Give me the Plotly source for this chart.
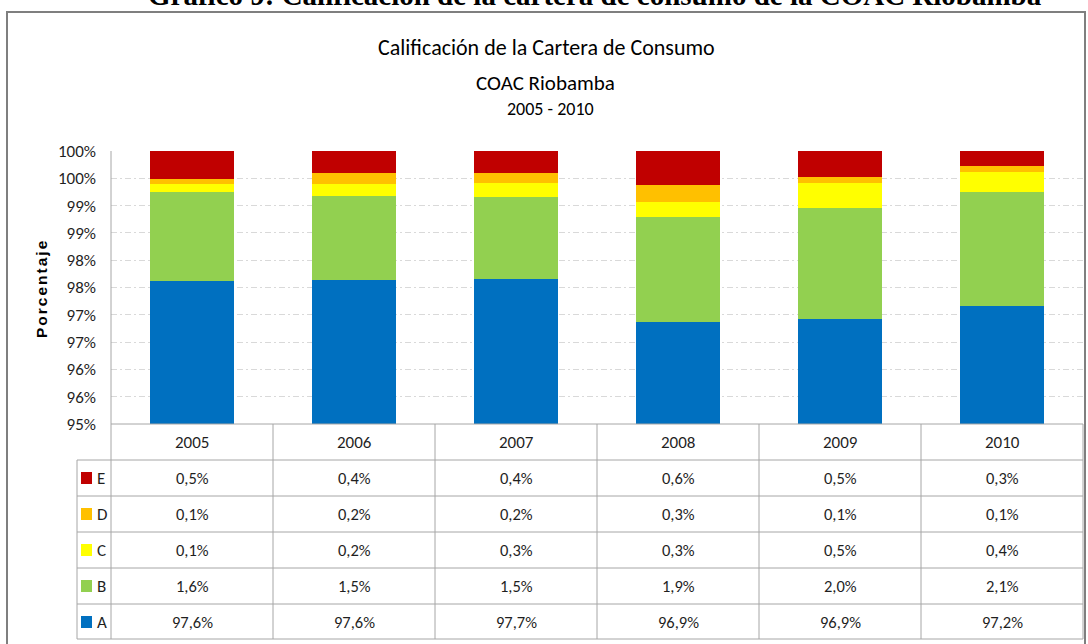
import plotly.graph_objects as go

# ---------------- data ----------------
years = ["2005", "2006", "2007", "2008", "2009", "2010"]
grade_A = [97.61, 97.63, 97.66, 96.86, 96.93, 97.17]
grade_B = [1.64, 1.54, 1.49, 1.94, 2.02, 2.08]
grade_C = [0.14, 0.22, 0.27, 0.27, 0.47, 0.37]
grade_D = [0.09, 0.21, 0.18, 0.30, 0.10, 0.10]
grade_E = [0.52, 0.40, 0.40, 0.63, 0.48, 0.28]
grade_names = ["A", "B", "C", "D", "E"]
grade_colors = ["#0070C0", "#92D050", "#FFFF00", "#FFC000", "#C00000"]
y_tickvals = [95, 95.5, 96, 96.5, 97, 97.5, 98, 98.5, 99, 99.5, 100]
y_ticktext = ["95%", "96%", "96%", "97%", "97%", "98%", "98%", "99%", "99%", "100%", "100%"]

series = [grade_A, grade_B, grade_C, grade_D, grade_E]

# ---------------- geometry (pixels) ----------------
W, H = 1088, 644
L, R, T, B = 111, 1083, 151, 424
ROW = 36
LEG_X = 77

def px2x(px):
    return (px - L) / (R - L)

def py2y(py):
    return (B - py) / (B - T)

FONT = "Carlito, Lato, Roboto, sans-serif"
TXT = "#1f1f1f"
GRID_LINE = "#a6a6a6"

fig = go.Figure()
for name, vals, col in zip(grade_names, series, grade_colors):
    fig.add_trace(go.Bar(x=years, y=vals, name=name, marker=dict(color=col, line=dict(width=0)),
                         width=0.52, hoverinfo="skip", showlegend=False))

shapes = []
annotations = []

def note(x, y, text, size, xref="paper", xanchor="center", color=TXT, family=FONT, **kw):
    annotations.append(dict(x=x, xref=xref, y=y, yref="paper", text=text, showarrow=False,
                            xanchor=xanchor, yanchor="middle",
                            font=dict(family=family, size=size, color=color), **kw))

# outer border
shapes.append(dict(type="rect", xref="paper", yref="paper",
                   x0=px2x(7), x1=px2x(1085), y0=py2y(652), y1=py2y(12),
                   line=dict(color="#7f7f7f", width=2), fillcolor="rgba(0,0,0,0)", layer="below"))

# table horizontal lines
row_edges = [B + ROW * i for i in range(7)]
row_edges[-1] = 639
for i, yy in enumerate(row_edges):
    x0 = L if i == 0 else LEG_X
    shapes.append(dict(type="line", xref="paper", yref="paper", x0=px2x(x0), x1=px2x(R),
                       y0=py2y(yy), y1=py2y(yy), line=dict(color=GRID_LINE, width=1)))
# table vertical lines
shapes.append(dict(type="line", xref="paper", yref="paper", x0=px2x(LEG_X), x1=px2x(LEG_X),
                   y0=py2y(row_edges[1]), y1=py2y(row_edges[-1]), line=dict(color=GRID_LINE, width=1)))
shapes.append(dict(type="line", xref="paper", yref="paper", x0=0, x1=0,
                   y0=py2y(T), y1=py2y(row_edges[-1]), line=dict(color=GRID_LINE, width=1)))
for k in range(1, len(years) + 1):
    xx = k / len(years)
    shapes.append(dict(type="line", xref="paper", yref="paper", x0=xx, x1=xx,
                       y0=py2y(B), y1=py2y(row_edges[-1]), line=dict(color=GRID_LINE, width=1)))

# header (years)
for i, yr in enumerate(years):
    note(i, py2y(B + ROW / 2), yr, 17, xref="x")

# table rows: E, D, C, B, A (top to bottom)
order = [4, 3, 2, 1, 0]
for r, si in enumerate(order):
    yc = B + ROW * (r + 1) + ROW / 2
    shapes.append(dict(type="rect", xref="paper", yref="paper",
                       x0=px2x(81), x1=px2x(92), y0=py2y(yc + 6), y1=py2y(yc - 6),
                       fillcolor=grade_colors[si], line=dict(width=0)))
    note(px2x(95), py2y(yc), grade_names[si], 17, xanchor="left")
    for i, v in enumerate(series[si]):
        note(i, py2y(yc), f"{v:.1f}%".replace(".", ","), 16.5, xref="x")

# titles
note(px2x(546), py2y(47), "Calificación de la Cartera de Consumo", 22, color="#000000")
note(px2x(545), py2y(83), "COAC Riobamba", 21, color="#000000")
note(px2x(550), py2y(109), "2005 - 2010", 18, color="#000000")
# y axis title
note(px2x(41), py2y(289), '<b><span style="letter-spacing:2px">Porcentaje</span></b>', 15.5,
     color="#000000", family="Liberation Sans, Arial, sans-serif", textangle=-90)
# document caption (cut off at top in the reference)
note(px2x(595), py2y(-5),
     "<b>Gráfico 9: Calificación de la cartera de consumo de la COAC Riobamba</b>", 29,
     color="#000000", family="Liberation Serif, Times New Roman, serif")

fig.update_layout(
    width=W, height=H, autosize=False,
    margin=dict(l=L, r=W - R, t=T, b=H - B, pad=0),
    paper_bgcolor="white", plot_bgcolor="white",
    barmode="stack",
    shapes=shapes, annotations=annotations,
    xaxis=dict(type="category", showticklabels=False, showgrid=False, zeroline=False,
               showline=False, ticks="", range=[-0.5, len(years) - 0.5]),
    yaxis=dict(range=[95, 100], tickvals=y_tickvals, ticktext=y_ticktext,
               tickfont=dict(family=FONT, size=17, color=TXT),
               showgrid=True, gridcolor="#d9d9d9", griddash="6px,3px,2px,3px", gridwidth=1,
               zeroline=False, showline=False, ticks="", ticklabelstandoff=14),
    showlegend=False,
)

fig.write_html("out.html", config={"displayModeBar": False},
               post_script="document.body.style.margin='0px';")
